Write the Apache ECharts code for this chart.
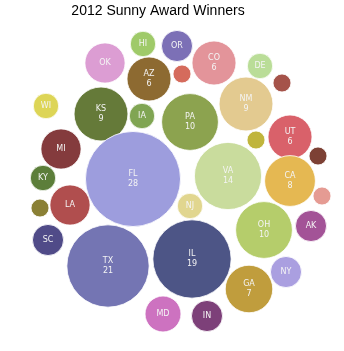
<!DOCTYPE html>
<html>
<head>
<meta charset="utf-8">
<script src="https://cdn.jsdelivr.net/npm/echarts@6/dist/echarts.min.js"></script>
<style>
html,body{margin:0;padding:0;background:#fff;}
#chart{width:344px;height:351px;}
</style>
</head>
<body>
<div id="chart"></div>
<script>
// Data
const states = ['HI','OR','OK','AZ','CO','','DE','','NM','PA','KS','IA','WI','UT','','','VA','CA','','NJ','OH','AK','FL','MI','KY','LA','','SC','TX','IL','MD','IN','GA','NY'];
const winners = [2,3,5,6,6,1,2,1,9,10,9,2,2,6,1,1,14,8,1,2,10,3,28,5,2,5,1,3,21,19,4,3,7,3];
// bubble layout positions (packed layout)
const layoutX = [143,177,105,149,214,182,260,282,246,190,101,142,46,290,256,318,228,290,322,190,264,311,133,61,43,70,40,48,108,192,163,207,249,286];
const layoutY = [44,46,63,79,63,74,66,83,104,122,114,116,106,137,140,156,176,181,196,206,230,226,179,149,178,205,208,240,266,259,314,316,289,272];
const palette = ['#9fca69','#7c70b6','#dc9dd3','#8d6a31','#e3949a','#d56b5c','#badd98','#a5534a','#e3ca90','#8ca34f','#657a39','#80a553','#ddd556','#d9616a','#c0b53c','#7d4135','#c9dc9d','#e5b852','#e59b93','#e1d68f','#b5cd6b','#a35397','#9d9ddd','#843b3d','#5c7e3a','#b04e4e','#8a8035','#504b88','#7475b3','#4d5586','#cd72c0','#7d4079','#c09d3d','#aa9fe0'];

const chart = echarts.init(document.getElementById('chart'));
const radiusPerSqrt = 8.98;
const data = states.map((s, i) => ({
  name: s,
  value: [layoutX[i], layoutY[i], winners[i]],
  itemStyle: { color: palette[i] }
}));

chart.setOption({
  animation: false,
  title: {
    text: '2012 Sunny Award Winners',
    left: 153, top: -1, textAlign: 'center',
    textStyle: { fontFamily: 'Liberation Sans', fontSize: 14, fontWeight: 'normal', color: '#000' }
  },
  grid: { left: 0, right: 0, top: 0, bottom: 0 },
  xAxis: { type: 'value', min: 0, max: 344, show: false },
  yAxis: { type: 'value', min: 0, max: 351, inverse: true, show: false },
  series: [{
    type: 'scatter',
    data: data,
    symbol: 'circle',
    symbolSize: v => 2 * radiusPerSqrt * Math.sqrt(v[2]),
    itemStyle: { opacity: 1, borderColor: '#ffffff', borderWidth: 0.8 },
    label: {
      show: true,
      position: 'inside',
      color: '#f4f4f4',
      fontFamily: 'DejaVu Sans',
      fontSize: 8,
      lineHeight: 10,
      formatter: p => {
        const v = p.value[2];
        if (v <= 1) return '';
        return v >= 6 ? p.name + '\n' + v : p.name;
      }
    }
  }]
});
</script>
</body>
</html>
